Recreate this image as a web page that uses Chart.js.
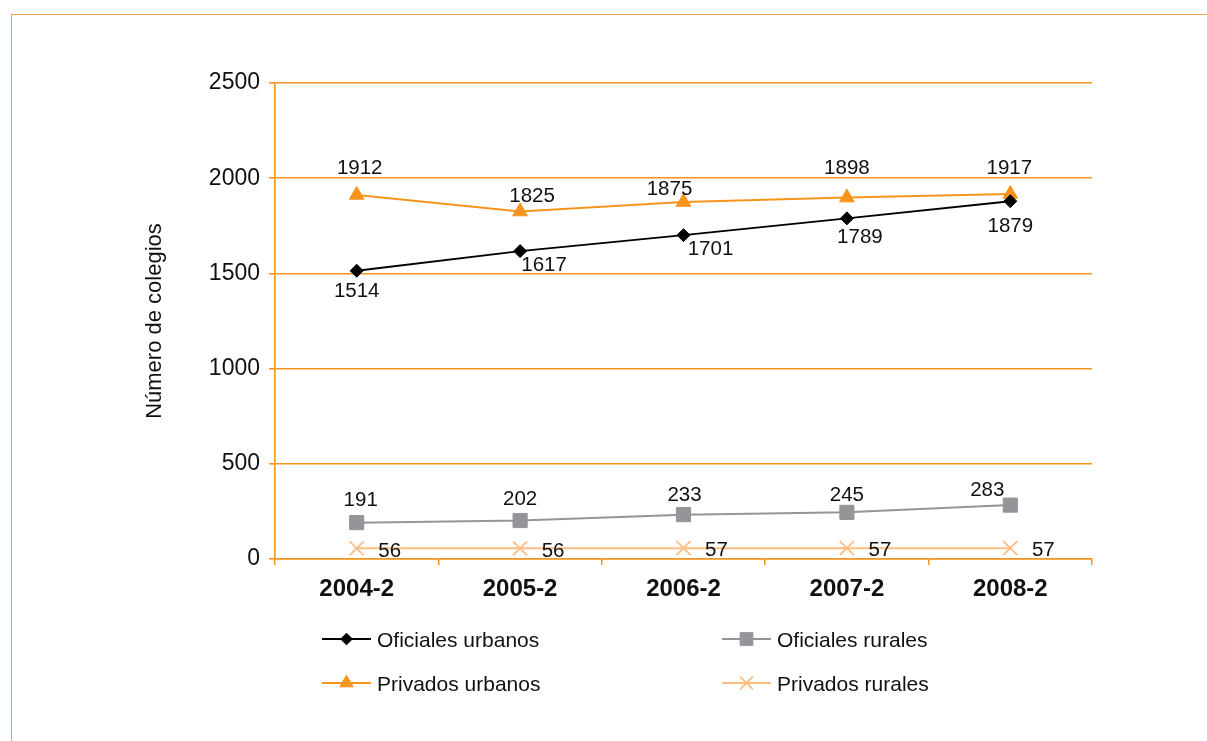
<!DOCTYPE html>
<html>
<head>
<meta charset="utf-8">
<script src="https://cdn.jsdelivr.net/npm/chart.js@4.4.1/dist/chart.umd.min.js"></script>
<style>
	html, body { margin: 0; padding: 0; background: #fff; }
	.wrapper { position: relative; width: 1207px; height: 741px; overflow: hidden; }
	.frame {
		position: absolute; left: 11px; top: 14px; right: -4px; bottom: -4px;
		border-top: 1.5px solid #F7A04E; border-left: 1.5px solid #F7A04E;
	}
	canvas { position: absolute; left: 0; top: 0; }
</style>
</head>
<body>
<div class="wrapper">
	<div class="frame"></div>
	<canvas id="lc-colegios" width="1207" height="741"></canvas>
</div>
<script>
// Data
const periods = ["2004-2", "2005-2", "2006-2", "2007-2", "2008-2"];
const oficialesUrbanos = [1514, 1617, 1701, 1789, 1879];
const oficialesRurales = [191, 202, 233, 245, 283];
const privadosUrbanos = [1912, 1825, 1875, 1898, 1917];
const privadosRurales = [56, 56, 57, 57, 57];
const yTicks = [0, 500, 1000, 1500, 2000, 2500];

const FONT = "'Liberation Sans', Arial, Helvetica, sans-serif";
const ORANGE = "#F7941D";
const LIGHT_ORANGE = "#FDBE80";
const GRAY = "#939598";
const TEXT = "#111111";

// Value labels next to each point (offsets of the text centre from the point)
const pointLabels = {
	id: "pointLabels",
	afterDatasetsDraw(chart, args, opts) {
		const ctx = chart.ctx;
		const size = opts.size;
		ctx.save();
		ctx.font = size + "px " + FONT;
		ctx.fillStyle = TEXT;
		ctx.textAlign = "center";
		ctx.textBaseline = "alphabetic";
		chart.data.datasets.forEach((ds, i) => {
			const meta = chart.getDatasetMeta(i);
			const offs = opts.offsets[i];
			meta.data.forEach((pt, j) => {
				const [dx, dy] = offs[j];
				ctx.fillText(String(ds.data[j]), pt.x + dx, pt.y + dy + size * 0.358);
			});
		});
		ctx.restore();
	},
};

// Two-column legend under the plot
const gridLegend = {
	id: "gridLegend",
	afterDraw(chart, args, opts) {
		const ctx = chart.ctx;
		ctx.save();
		chart.data.datasets.forEach((ds, i) => {
			const [x, y] = opts.slots[i];
			ctx.strokeStyle = ds.borderColor;
			ctx.lineWidth = ds.borderWidth;
			ctx.beginPath();
			ctx.moveTo(x, y);
			ctx.lineTo(x + opts.sample, y);
			ctx.stroke();

			ctx.fillStyle = ds.pointBackgroundColor;
			ctx.strokeStyle = ds.pointBorderColor;
			ctx.lineWidth = ds.pointBorderWidth;
			Chart.helpers.drawPoint(ctx, {
				pointStyle: ds.pointStyle,
				radius: ds.pointRadius * 0.9,
				borderWidth: ds.pointBorderWidth,
				rotation: 0,
			}, x + opts.sample / 2, y);

			ctx.fillStyle = TEXT;
			ctx.font = opts.size + "px " + FONT;
			ctx.textAlign = "left";
			ctx.textBaseline = "alphabetic";
			ctx.fillText(ds.label, x + opts.sample + 6, y + opts.size * 0.358);
		});
		ctx.restore();
	},
};

const data = {
	labels: periods,
	datasets: [
		{
			label: "Oficiales urbanos",
			data: oficialesUrbanos,
			borderColor: "#000000",
			borderWidth: 2,
			pointStyle: "rectRot",
			pointRadius: 6.5,
			pointBackgroundColor: "#000000",
			pointBorderColor: "#000000",
			pointBorderWidth: 1,
		},
		{
			label: "Oficiales rurales",
			data: oficialesRurales,
			borderColor: GRAY,
			borderWidth: 2,
			pointStyle: "rect",
			pointRadius: 10,
			pointBackgroundColor: GRAY,
			pointBorderColor: GRAY,
			pointBorderWidth: 1,
		},
		{
			label: "Privados urbanos",
			data: privadosUrbanos,
			borderColor: ORANGE,
			borderWidth: 2,
			pointStyle: "triangle",
			pointRadius: 8.5,
			pointBackgroundColor: ORANGE,
			pointBorderColor: ORANGE,
			pointBorderWidth: 1,
		},
		{
			label: "Privados rurales",
			data: privadosRurales,
			borderColor: LIGHT_ORANGE,
			borderWidth: 2,
			pointStyle: "crossRot",
			pointRadius: 10,
			pointBackgroundColor: LIGHT_ORANGE,
			pointBorderColor: LIGHT_ORANGE,
			pointBorderWidth: 1.8,
		},
	],
};

const options = {
	responsive: false,
	animation: false,
	devicePixelRatio: 1,
	layout: { padding: { left: 142, top: 83, right: 115, bottom: 0 } },
	scales: {
		x: {
			offset: true,
			grid: {
				offset: true,
				drawOnChartArea: false,
				color: ORANGE,
				lineWidth: 1.5,
				tickLength: 6,
			},
			border: { color: ORANGE, width: 1.5 },
			ticks: {
				color: TEXT,
				font: { family: FONT, size: 24, weight: "bold" },
				padding: 10,
				maxRotation: 0,
				autoSkip: false,
			},
			afterFit: (scale) => { scale.height = 741 - 559; },
		},
		y: {
			min: 0,
			max: 2500,
			afterBuildTicks: (scale) => { scale.ticks = yTicks.map((v) => ({ value: v })); },
			grid: { color: ORANGE, lineWidth: 1.6, tickLength: 6 },
			border: { color: ORANGE, width: 1.6 },
			ticks: {
				color: TEXT,
				font: { family: FONT, size: 23 },
				padding: 9,
				callback: (v) => String(v),
			},
			title: {
				display: true,
				text: "Número de colegios",
				color: TEXT,
				font: { family: FONT, size: 22 },
				padding: 0,
			},
			afterFit: (scale) => { scale.width = 275 - 142; },
		},
	},
	plugins: {
		legend: { display: false },
		tooltip: { enabled: false },
		pointLabels: {
			size: 20.5,
			offsets: [
				[[0, 19], [24, 12.5], [27, 13], [13, 17], [0, 23]],
				[[4, -23.5], [0, -22.5], [1, -20.5], [0, -18.5], [-23, -16]],
				[[3, -28], [12, -16.5], [-14, -14.5], [0, -31], [-1, -27.5]],
				[[33, 1], [33, 1], [33, 1], [33, 1], [33, 1]],
			],
		},
		gridLegend: {
			size: 21,
			sample: 49,
			slots: [[322, 639], [722, 639], [322, 683], [722, 683]],
		},
	},
};

new Chart(document.getElementById("lc-colegios").getContext("2d"), {
	type: "line",
	data: data,
	options: options,
	plugins: [pointLabels, gridLegend],
});
</script>
</body>
</html>
